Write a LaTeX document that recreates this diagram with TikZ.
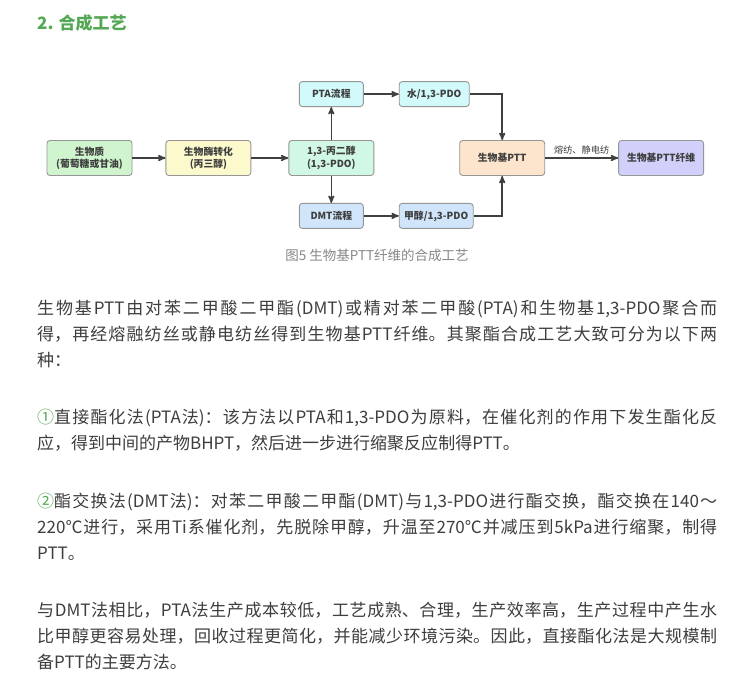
\documentclass[tikz,border=0pt]{standalone}
\usepackage{fontspec}
\setmainfont{Noto Sans CJK SC}
\usetikzlibrary{arrows,positioning}
\XeTeXlinebreaklocale "zh"
\XeTeXlinebreakskip=0pt plus 2pt minus 0.5pt

\definecolor{headgreen}{RGB}{84,168,84}
\definecolor{bodytext}{RGB}{62,62,62}
\definecolor{captgrey}{RGB}{136,136,136}
\definecolor{boxline}{RGB}{150,150,150}
\definecolor{flowgrey}{RGB}{64,64,64}
\definecolor{cbio}{RGB}{208,245,206}
\definecolor{cenzyme}{RGB}{252,250,205}
\definecolor{cpdo}{RGB}{208,248,228}
\definecolor{cpta}{RGB}{210,250,250}
\definecolor{cdmt}{RGB}{208,228,250}
\definecolor{cptt}{RGB}{252,228,205}
\definecolor{cfibre}{RGB}{208,208,250}

\begin{document}
\begin{tikzpicture}[x=1pt,y=-1pt,>=stealth',node distance=35pt,
    box/.style={draw=boxline,line width=0.9pt,rounded corners=3pt,text=bodytext,align=center,inner sep=2pt,
        font=\fontsize{9.8}{12.3}\selectfont\bfseries},
    big/.style={box,minimum width=85pt,minimum height=35pt},
    small/.style={box,minimum height=25pt},
    flow/.style={->,draw=flowgrey,line width=1.5pt},
    body/.style={anchor=north west,inner sep=0pt,text width=680pt,align=justify,
        text=bodytext,font=\fontsize{17}{26}\selectfont}]
    \useasboundingbox (0,0) rectangle (746,692);
    \fill[white] (0,0) rectangle (746,692);

    % heading and caption
    \node[anchor=west,inner sep=0pt,text=headgreen,font=\fontsize{17}{20}\selectfont\bfseries] (title) at (37,23) {2. 合成工艺};
    \node[text=captgrey,font=\fontsize{13.5}{16}\selectfont] (caption) at (377,255) {图5 生物基PTT纤维的合成工艺};

    % process chart
    \node[big,fill=cbio] (bio) at (89.5,158) {生物质\\(葡萄糖或甘油)};
    \node[big,fill=cenzyme] (enzyme) [right=33pt of bio] {生物酶转化\\(丙三醇)};
    \node[big,fill=cpdo] (pdo) [right=37pt of enzyme] {1,3-丙二醇\\(1,3-PDO)};
    \node[small,fill=cpta,minimum width=64pt] (pta) [above=33pt of pdo] {PTA流程};
    \node[small,fill=cdmt,minimum width=64pt] (dmt) [below=27pt of pdo] {DMT流程};
    \node[small,fill=cpta,minimum width=70pt] (water) [right=35pt of pta] {水/1,3-PDO};
    \node[small,fill=cdmt,minimum width=74pt] (methanol) [right=35pt of dmt] {甲醇/1,3-PDO};
    \node[big,fill=cptt] (ptt) [right=85pt of pdo] {生物基PTT};
    \node[big,fill=cfibre] (fibre) [right=73pt of ptt] {生物基PTT纤维};

    \path[flow] (bio) edge (enzyme);
    \path[flow] (enzyme) edge (pdo);
    \path[flow] (pdo) edge (pta);
    \path[flow] (pdo) edge (dmt);
    \path[flow] (pta) edge (water);
    \path[flow] (dmt) edge (methanol);
    \draw[flow] (water) -| (ptt);
    \draw[flow] (methanol) -| (ptt);
    \path[flow] (ptt) edge node[above,inner sep=3pt,text=bodytext,font=\fontsize{9.2}{10}\selectfont] (spin) {熔纺、静电纺} (fibre);

    % body text
    \node[body] (intro) at (37,300) {生物基PTT由对苯二甲酸二甲酯(DMT)或精对苯二甲酸(PTA)和生物基1,3-PDO聚合而\linebreak
        得，再经熔融纺丝或静电纺丝得到生物基PTT纤维。其聚酯合成工艺大致可分为以下两\linebreak
        种：};
    \node[body] (esterpta) at (37,409) {\textcolor{headgreen}{①}直接酯化法(PTA法)：该方法以PTA和1,3-PDO为原料，在催化剂的作用下发生酯化反\linebreak
        应，得到中间的产物BHPT，然后进一步进行缩聚反应制得PTT。};
    \node[body] (esterdmt) at (37,493) {\textcolor{headgreen}{②}酯交换法(DMT法)：对苯二甲酸二甲酯(DMT)与1,3-PDO进行酯交换，酯交换在140～\linebreak
        220℃进行，采用Ti系催化剂，先脱除甲醇，升温至270℃并减压到5kPa进行缩聚，制得\linebreak
        PTT。};
    \node[body] (compare) at (37,602) {与DMT法相比，PTA法生产成本较低，工艺成熟、合理，生产效率高，生产过程中产生水\linebreak
        比甲醇更容易处理，回收过程更简化，并能减少环境污染。因此，直接酯化法是大规模制\linebreak
        备PTT的主要方法。};
\end{tikzpicture}
\end{document}
